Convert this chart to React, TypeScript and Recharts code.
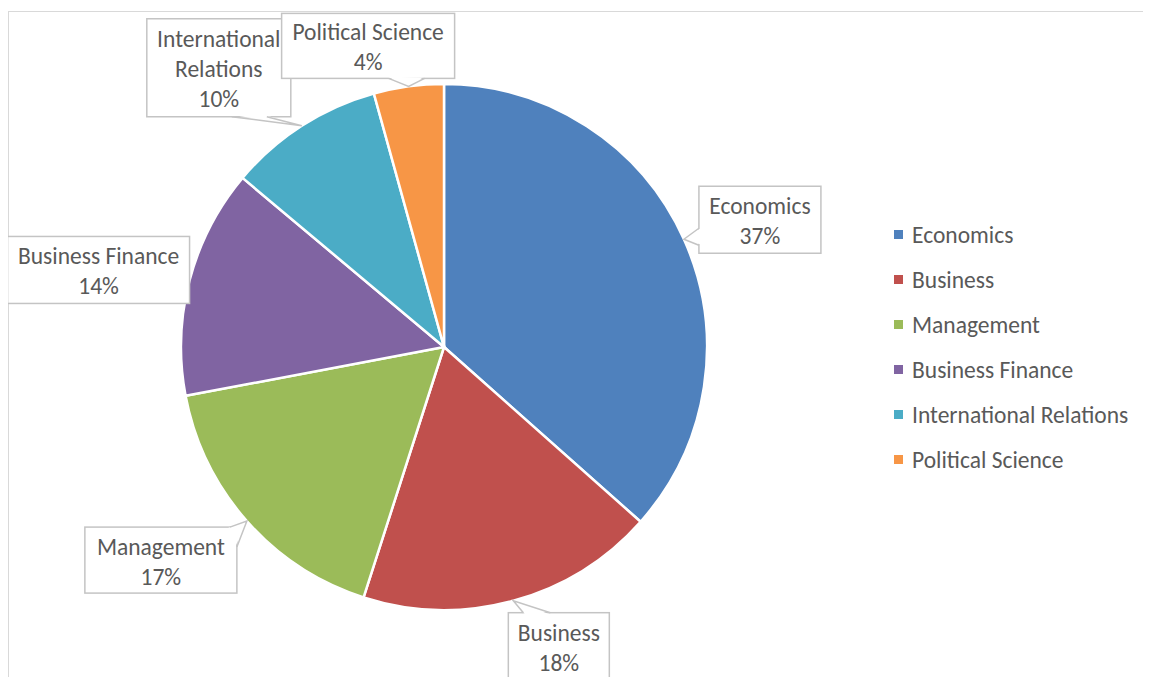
import React from "react";
import { PieChart, Pie, Cell, Legend } from "recharts";

const categories = [
  "Economics",
  "Business",
  "Management",
  "Business Finance",
  "International Relations",
  "Political Science",
];
const labelLines = [
  ["Economics"],
  ["Business"],
  ["Management"],
  ["Business Finance"],
  ["International", "Relations"],
  ["Political Science"],
];
const shares = [36.6, 18.4, 17.1, 14.1, 9.6, 4.3];
const colors = ["#4F81BD", "#C0504D", "#9BBB59", "#8064A2", "#4BACC6", "#F79646"];

const data = categories.map((name, i) => ({ name, value: shares[i] }));

const FONT = "Carlito, Calibri, Lato, 'Liberation Sans', sans-serif";
const FONT_SIZE = 23.5;
const TEXT_COLOR = "#595959";
const BOX_STROKE = "#C4C4C4";

// callout box placement relative to the slice's outer mid-arc point
const LABEL_LAYOUT: { dx: number; dy: number; w: number; h: number; notch: number[][] | null }[] = [
  { dx: 15, dy: -53, w: 122, h: 67, notch: [[0, 42], [0, 59]] },
  { dx: -5, dy: 12, w: 101, h: 67, notch: [[15, 0], [42, 0]] },
  { dx: -162, dy: 6, w: 152, h: 66, notch: [[145, 0], [152, 20]] },
  { dx: -182, dy: -44, w: 182, h: 67, notch: null },
  { dx: -155, dy: -107, w: 144, h: 98, notch: [[85, 98], [120, 98]] },
  { dx: -127, dy: -73, w: 173, h: 65, notch: [[107, 65], [143, 65]] },
];

const RAD = Math.PI / 180;

const renderLabel = (props: any) => {
  const { cx, cy, midAngle, outerRadius, percent, index } = props;
  const tx = cx + outerRadius * Math.cos(-midAngle * RAD);
  const ty = cy + outerRadius * Math.sin(-midAngle * RAD);
  const L = LABEL_LAYOUT[index];
  const x = tx + L.dx;
  const y = ty + L.dy;
  const lines = [...labelLines[index], `${Math.round(percent * 100)}%`];
  const n = lines.length;
  const ccx = x + L.w / 2;
  const ccy = y + L.h / 2;
  let notchEls: React.ReactNode = null;
  if (L.notch) {
    const b = L.notch.map(([px, py]) => [x + px, y + py]);
    const inward = b.map(([px, py]) => {
      const vx = ccx - px;
      const vy = ccy - py;
      const d = Math.hypot(vx, vy) || 1;
      return [px + (vx / d) * 2, py + (vy / d) * 2];
    });
    notchEls = (
      <>
        <polygon
          points={`${inward[0][0]},${inward[0][1]} ${tx},${ty} ${inward[1][0]},${inward[1][1]}`}
          fill="#fff"
          stroke="none"
        />
        <polyline
          points={`${b[0][0]},${b[0][1]} ${tx},${ty} ${b[1][0]},${b[1][1]}`}
          fill="none"
          stroke={BOX_STROKE}
          strokeWidth={1.5}
        />
      </>
    );
  }
  return (
    <g key={`lbl-${index}`}>
      <rect x={x} y={y} width={L.w} height={L.h} fill="#fff" stroke={BOX_STROKE} strokeWidth={1.5} />
      {notchEls}
      <text
        fontFamily={FONT}
        fontSize={FONT_SIZE}
        fill={TEXT_COLOR}
        textAnchor="middle"
        dominantBaseline="central"
      >
        {lines.map((t, i) => (
          <tspan key={i} x={ccx} y={ccy + 1.5 + (i - (n - 1) / 2) * 30}>
            {t}
          </tspan>
        ))}
      </text>
    </g>
  );
};

const renderLegend = () => (
  <div style={{ fontFamily: FONT, fontSize: FONT_SIZE, color: TEXT_COLOR }}>
    {categories.map((c, i) => (
      <div key={c} style={{ height: 45, display: "flex", alignItems: "center", whiteSpace: "nowrap" }}>
        <span style={{ display: "inline-block", width: 9, height: 9, background: colors[i], marginRight: 9 }} />
        <span>{c}</span>
      </div>
    ))}
  </div>
);

export default function App() {
  return (
    <div style={{ position: "relative", width: 1143, height: 669, overflow: "hidden", background: "#fff" }}>
      <div
        style={{
          position: "absolute",
          left: 0,
          top: 3,
          width: 1200,
          height: 800,
          border: "1.5px solid #D9D9D9",
          boxSizing: "border-box",
        }}
      />
      <div style={{ position: "absolute", left: 0, top: 0 }}>
        <PieChart width={1143} height={669} margin={{ top: 0, right: 0, bottom: 0, left: 0 }}>
          <Pie
            data={data}
            dataKey="value"
            nameKey="name"
            cx={436}
            cy={339}
            outerRadius={263}
            startAngle={90}
            endAngle={-270}
            stroke="#fff"
            strokeWidth={2.5}
            label={renderLabel}
            labelLine={false}
            isAnimationActive={false}
          >
            {data.map((d, i) => (
              <Cell key={d.name} fill={colors[i]} />
            ))}
          </Pie>
          <Legend
            layout="vertical"
            align="right"
            verticalAlign="top"
            wrapperStyle={{ left: 886, top: 204, width: 257 }}
            content={renderLegend}
          />
        </PieChart>
      </div>
    </div>
  );
}
